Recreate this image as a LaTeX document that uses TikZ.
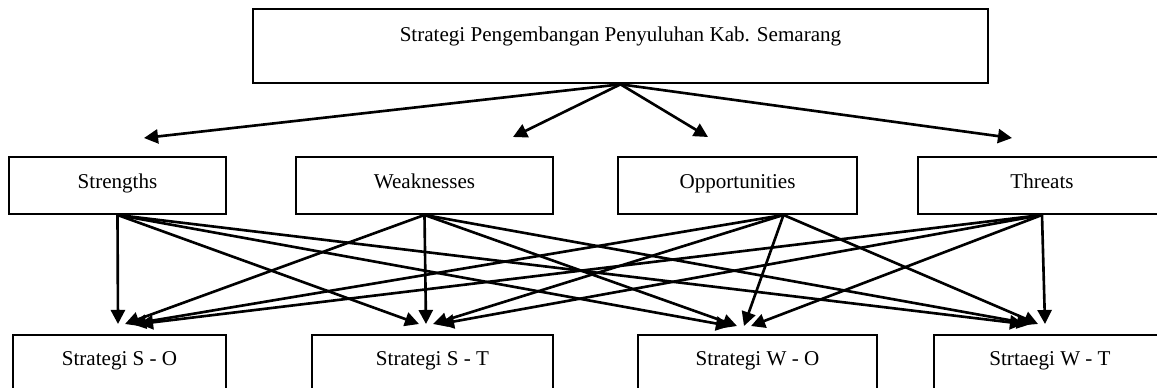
\documentclass[tikz,border=0pt]{standalone}
\usepackage{fontspec}
\setmainfont{Liberation Serif}
\usetikzlibrary{arrows.meta, calc}

\begin{document}
\begin{tikzpicture}[
    x=0.02cm, y=-0.02cm,
    every node/.style={font=\fontsize{12}{14}\selectfont},
    box/.style={
        draw, line width=1.1pt, inner sep=0pt,
        text height=8pt, text depth=5pt
    },
    rootbox/.style={box, line width=1.5pt, text depth=12.6pt},
    link/.style={line width=1.5pt, -{Triangle[length=8pt,width=8pt]}},
]
    \useasboundingbox (0,0) rectangle (1157,387);
    \clip (0,0) rectangle (1157,387);

    \node[rootbox, minimum width=14.7cm, minimum height=1.48cm] (swot) at (620.5,46)
        {Strategi Pengembangan Penyuluhan Kab. Semarang};

    \node[box, minimum width=4.34cm, minimum height=1.14cm] (str) at (117.5,185.5) {Strengths};
    \node[box, minimum width=5.14cm, minimum height=1.14cm] (weak) at (424.5,185.5) {Weaknesses};
    \node[box, minimum width=4.78cm, minimum height=1.14cm] (opp) at (737.5,185.5) {Opportunities};
    \node[box, minimum width=4.96cm, minimum height=1.14cm] (thr) at (1042,185.5) {Threats};

    \node[box, minimum width=4.26cm, minimum height=1.12cm] (so) at (119.5,363) {Strategi S - O};
    \node[box, minimum width=4.82cm, minimum height=1.12cm] (st) at (432.5,363) {Strategi S - T};
    \node[box, minimum width=4.78cm, minimum height=1.12cm] (wo) at (757.5,363) {Strategi W - O};
    \node[box, minimum width=4.64cm, minimum height=1.12cm] (wt) at (1050,363) {Strtaegi W - T};

    \coordinate (str-in) at (144,138);
    \coordinate (weak-in) at (513,137);
    \coordinate (opp-in) at (708,137);
    \coordinate (thr-in) at (1012,138);
    \foreach \n in {str,weak,opp,thr}
        \draw[link] (swot.south) -- (\n-in);

    \coordinate (str-out) at (str.south);
    \coordinate (weak-out) at (weak.south);
    \coordinate (opp-out) at ($(opp.south)+(46,0)$);
    \coordinate (thr-out) at (thr.south);
    \coordinate (so-in) at (118,324);
    \coordinate (st-in) at (426,324);
    \coordinate (wo-in) at (744,326);
    \coordinate (wt-in) at (1045,324);
    \foreach \s [count=\i] in {str,weak,opp,thr}
        \foreach \t [count=\j] in {so,st,wo,wt}
            \draw[link] (\s-out) -- ($(\t-in)+({7*(\i-\j)},0)$);
\end{tikzpicture}
\end{document}
